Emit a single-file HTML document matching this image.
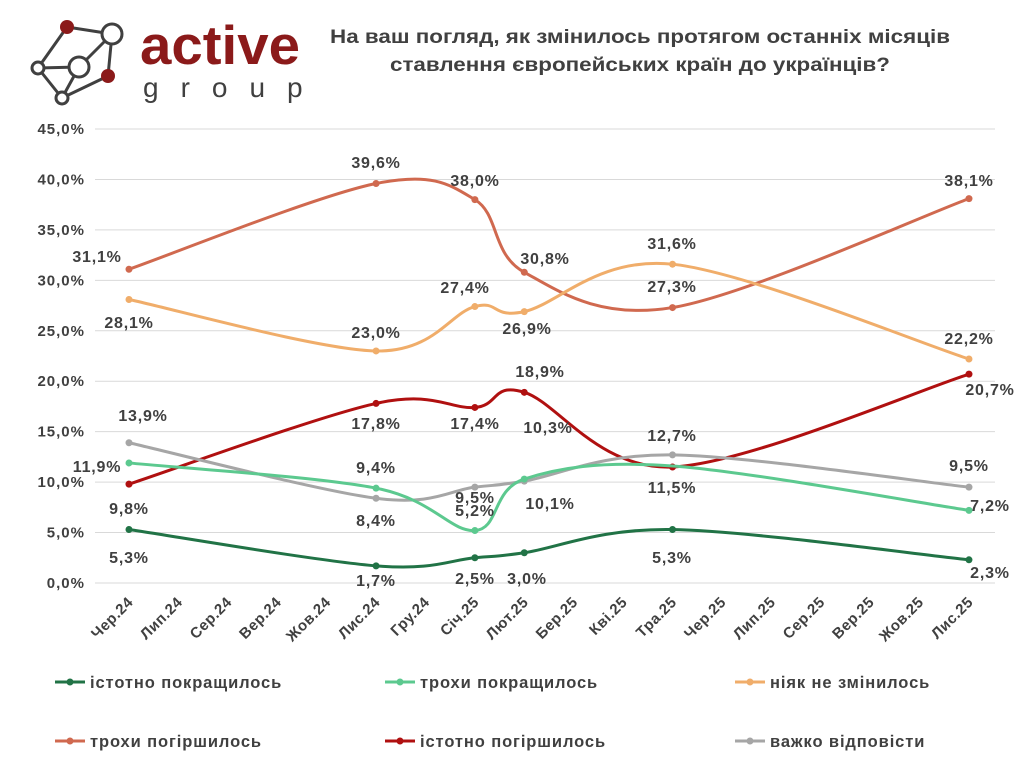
<!DOCTYPE html>
<html><head><meta charset="utf-8"><style>
body{margin:0;background:#fff;width:1024px;height:768px;overflow:hidden;font-family:"Liberation Sans",sans-serif}
svg text{font-family:"Liberation Sans",sans-serif}
</style></head><body>
<svg id="s" width="1024" height="768" xmlns="http://www.w3.org/2000/svg">
<g stroke="#404040" stroke-width="3" fill="#fff">
<line x1="67" y1="27" x2="112" y2="34"/><line x1="67" y1="27" x2="38" y2="68"/><line x1="112" y1="34" x2="79" y2="67"/>
<line x1="112" y1="34" x2="108" y2="76"/><line x1="38" y1="68" x2="79" y2="67"/><line x1="38" y1="68" x2="62" y2="98"/>
<line x1="79" y1="67" x2="62" y2="98"/><line x1="62" y1="98" x2="108" y2="76"/>
<circle cx="112" cy="34" r="10"/><circle cx="79" cy="67" r="10"/><circle cx="38" cy="68" r="6"/><circle cx="62" cy="98" r="6"/>
</g>
<circle cx="67" cy="27" r="7" fill="#8b1a1a"/><circle cx="108" cy="76" r="7" fill="#8b1a1a"/>
<text x="140" y="64" font-size="55" font-weight="bold" fill="#8b1a1a" textLength="160" lengthAdjust="spacingAndGlyphs">active</text>
<text x="143" y="97" font-size="28" fill="#404040" letter-spacing="22">group</text>
<text x="640" y="43" font-size="19" font-weight="bold" fill="#404040" text-anchor="middle" textLength="620" lengthAdjust="spacingAndGlyphs">На ваш погляд, як змінилось протягом останніх місяців</text>
<text x="640" y="71" font-size="19" font-weight="bold" fill="#404040" text-anchor="middle" textLength="500" lengthAdjust="spacingAndGlyphs">ставлення європейських країн до українців?</text>
<g id="grid"></g><g id="lines"></g><g id="labs"></g>
</svg>
<script>
var s=document.getElementById('s'),NS='http://www.w3.org/2000/svg';
function el(p,t,a,txt){var e=document.createElementNS(NS,t);for(var k in a)e.setAttribute(k,a[k]);if(txt!=null)e.textContent=txt;document.getElementById(p).appendChild(e);return e;}
function X(i){return 129+i*49.41;}function Y(v){return 583-v*10.089;}
for(var v=0;v<=45;v+=5){el('grid','line',{x1:95,x2:995,y1:Y(v),y2:Y(v),stroke:'#d9d9d9','stroke-width':1});
el('grid','text',{x:85,y:Y(v)+5,'text-anchor':'end','font-size':15,'font-weight':'bold',fill:'#404040','letter-spacing':1},v.toFixed(1).replace('.',',')+'%');}
var m=['Чер.24','Лип.24','Сер.24','Вер.24','Жов.24','Лис.24','Гру.24','Січ.25','Лют.25','Бер.25','Кві.25','Тра.25','Чер.25','Лип.25','Сер.25','Вер.25','Жов.25','Лис.25'];
m.forEach(function(t,i){el('grid','text',{x:X(i)+5,y:603,'text-anchor':'end','font-size':15,'font-weight':'bold',fill:'#404040','letter-spacing':0.5,transform:'rotate(-45 '+(X(i)+5)+' 603)'},t);});
var S=[
{c:'#d0694f',n:'трохи погіршилось',p:[[0,31.1],[5,39.6],[7,38.0],[8,30.8],[11,27.3],[17,38.1]],l:[[97,256],[376,162],[475,180],[545,258],[672,286],[969,180]]},
{c:'#f0ad6a',n:'ніяк не змінилось',p:[[0,28.1],[5,23.0],[7,27.4],[8,26.9],[11,31.6],[17,22.2]],l:[[129,322],[376,332],[465,287],[527,328],[672,243],[969,338]]},
{c:'#b01010',n:'істотно погіршилось',p:[[0,9.8],[5,17.8],[7,17.4],[8,18.9],[11,11.5],[17,20.7]],l:[[129,508],[376,423],[475,423],[540,371],[672,487],[990,389]]},
{c:'#a6a6a6',n:'важко відповісти',p:[[0,13.9],[5,8.4],[7,9.5],[8,10.1],[11,12.7],[17,9.5]],l:[[143,415],[376,520],[475,497],[550,503],[672,435],[969,465]]},
{c:'#5cc98f',n:'трохи покращилось',p:[[0,11.9],[5,9.4],[7,5.2],[8,10.3],[11,11.6],[17,7.2]],l:[[97,466],[376,467],[475,510],[548,427],null,[990,505]]},
{c:'#217346',n:'істотно покращилось',p:[[0,5.3],[5,1.7],[7,2.5],[8,3.0],[11,5.3],[17,2.3]],l:[[129,557],[376,580],[475,578],[527,578],[672,557],[990,572]]}];
S.forEach(function(sr){var P=sr.p.map(function(q){return[X(q[0]),Y(q[1])];});
var d='M'+P[0][0]+' '+P[0][1];
for(var i=0;i<P.length-1;i++){var p0=P[i-1]||P[i],p1=P[i],p2=P[i+1],p3=P[i+2]||P[i+1],t=6;
d+=' C'+(p1[0]+(p2[0]-p0[0])/t)+' '+(p1[1]+(p2[1]-p0[1])/t)+' '+(p2[0]-(p3[0]-p1[0])/t)+' '+(p2[1]-(p3[1]-p1[1])/t)+' '+p2[0]+' '+p2[1];}
el('lines','path',{d:d,fill:'none',stroke:sr.c,'stroke-width':3});
P.forEach(function(q,i){if(sr.l[i])el('lines','circle',{cx:q[0],cy:q[1],r:3.5,fill:sr.c});});
sr.l.forEach(function(L,i){if(L)el('labs','text',{x:L[0],y:L[1]+6,'text-anchor':'middle','font-size':16,'font-weight':'bold',fill:'#404040','letter-spacing':0.8},sr.p[i][1].toFixed(1).replace('.',',')+'%');});});
var leg=[[5,55,682],[4,385,682],[1,735,682],[0,55,741],[2,385,741],[3,735,741]];
leg.forEach(function(g){var sr=S[g[0]];el('labs','line',{x1:g[1],x2:g[1]+30,y1:g[2],y2:g[2],stroke:sr.c,'stroke-width':3});
el('labs','circle',{cx:g[1]+15,cy:g[2],r:3.5,fill:sr.c});
el('labs','text',{x:g[1]+35,y:g[2]+6,'font-size':16.5,'font-weight':'bold',fill:'#404040','letter-spacing':0.9},sr.n);});
</script>
</body></html>
